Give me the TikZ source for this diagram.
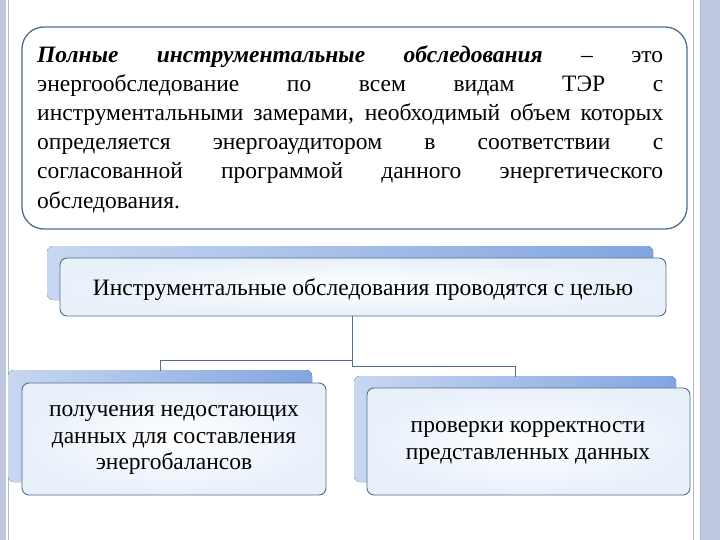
\documentclass[tikz,border=0pt]{standalone}
\usepackage{fontspec}
\setmainfont{Liberation Serif}
\definecolor{edge}{RGB}{80,110,140}
\definecolor{shA}{RGB}{200,215,240}
\definecolor{shB}{RGB}{130,165,225}
\definecolor{bord}{RGB}{190,200,225}
\definecolor{inner}{RGB}{232,240,250}
\begin{document}
\begin{tikzpicture}[x=1pt,y=-1pt,
  frame/.style={draw=edge, line width=0.9pt, rounded corners=7pt},
  shade/.style={rounded corners=6pt, left color=shA, right color=shB, draw=none},
  conn/.style={draw=edge, line width=1pt},
  txt/.style={font=\fontsize{23.5}{26.5}\selectfont, align=center}]
\useasboundingbox (0,0) rectangle (720,540);
\fill[white] (0,0) rectangle (720,540);
% page borders
\fill[bord] (0,0) rectangle (6,540);
\draw[bord!80!gray, line width=1pt] (8,0) -- (8,540);
\fill[bord] (700,0) rectangle (720,540);
\draw[bord!80!gray, line width=1pt] (693,0) -- (693,540) (700,0) -- (700,540);
% top box
\draw[draw=edge, line width=1.3pt, rounded corners=22pt, fill=white] (22,27) rectangle (687,229);
\node[anchor=north west, text width=626pt, align=justify, font=\fontsize{23.5}{29.2}\selectfont, inner sep=0pt] (def) at (37,45)
{\textbf{\textit{Полные инструментальные обследования}} – это\linebreak энергообследование по всем видам ТЭР с\linebreak инструментальными замерами, необходимый объем которых\linebreak определяется энергоаудитором в соответствии с\linebreak согласованной программой данного энергетического\linebreak обследования.};
% middle
\fill[shade] (47,246) rectangle (653,300);
\draw[frame, inner color=white, outer color=inner] (60,258) rectangle (666,316);
\node[txt] (mid) at (363,290) {Инструментальные обследования проводятся с целью};
\coordinate (mb) at (352,316);
% left box
\fill[shade] (8,370) rectangle (312,482);
\draw[frame, inner color=white, outer color=inner] (22,383) rectangle (326,495);
\node[txt] (lb) at (174,440) {получения недостающих\\данных для составления\\энергобалансов};
% right box
\fill[shade] (354,376) rectangle (676,482);
\draw[frame, inner color=white, outer color=inner] (367,388) rectangle (690,495);
\node[txt] (rb) at (528,443) {проверки корректности\\представленных данных};
% connectors
\coordinate (j1) at (352,360);
\coordinate (j2) at (352,366);
\draw[conn] (mb) -- (j2);
\draw[conn] (j1) -| (160,371);
\draw[conn] (j2) -| (515,377);
\end{tikzpicture}
\end{document}
